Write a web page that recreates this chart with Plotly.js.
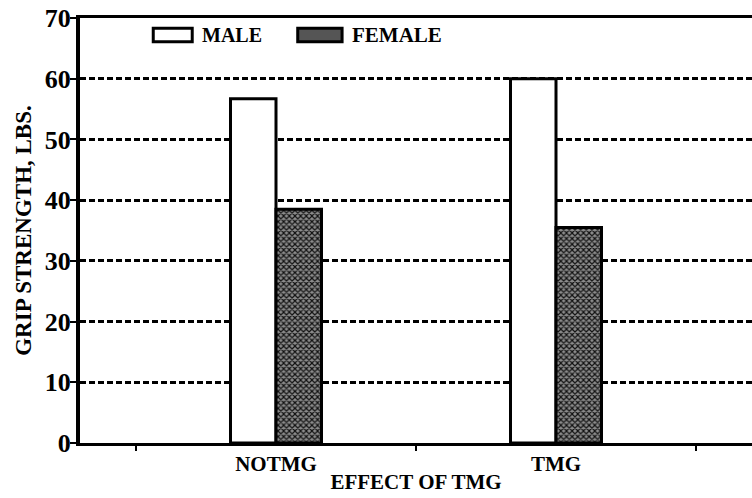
<!DOCTYPE html>
<html>
<head>
<meta charset="utf-8">
<script src="https://cdn.plot.ly/plotly-3.0.1.min.js"></script>
<style>html,body{margin:0;padding:0;background:#fff;}#chart{width:752px;height:498px;}</style>
</head>
<body>
<div id="chart"></div>
<script>
var categories = ["NOTMG", "TMG"];
var seriesNames = ["MALE", "FEMALE"];
var maleValues = [56.7, 60];
var femaleValues = [38.5, 35.5];
var yTickValues = [0, 10, 20, 30, 40, 50, 60, 70];
var xAxisTitle = "EFFECT OF TMG";
var yAxisTitle = "GRIP STRENGTH, LBS.";

var serif = "Liberation Serif, Times New Roman, serif";
function f(size) { return {family: serif, size: size, color: "#000", weight: "bold"}; }

var traces = [
  {
    type: "bar", name: seriesNames[0], x: categories, y: maleValues,
    marker: {color: "#fff", line: {color: "#000", width: 3}},
    showlegend: false, hoverinfo: "x+y"
  },
  {
    type: "bar", name: seriesNames[1], x: categories, y: femaleValues,
    marker: {
      color: "#666",
      line: {color: "#000", width: 3},
      pattern: {shape: "x", size: 4, solidity: 0.5, fgcolor: "#111", bgcolor: "#8c8c8c"}
    },
    showlegend: false, hoverinfo: "x+y"
  }
];

// legend drawn in paper coordinates
var lgY0 = 0.944, lgY1 = 0.976;
var shapes = [
  {type: "rect", xref: "paper", yref: "paper", x0: 0.109, x1: 0.167, y0: lgY0, y1: lgY1,
   fillcolor: "#fff", line: {color: "#000", width: 3}},
  {type: "rect", xref: "paper", yref: "paper", x0: 0.324, x1: 0.390, y0: lgY0, y1: lgY1,
   fillcolor: "#555", line: {color: "#000", width: 3}}
];
var annotations = [
  {xref: "paper", yref: "paper", x: 0.179, y: 0.96, xanchor: "left", yanchor: "middle",
   text: seriesNames[0], showarrow: false, font: f(20)},
  {xref: "paper", yref: "paper", x: 0.402, y: 0.96, xanchor: "left", yanchor: "middle",
   text: seriesNames[1], showarrow: false, font: f(21)}
];

var layout = {
  width: 752, height: 498,
  margin: {l: 80, r: 0, t: 18, b: 55},
  paper_bgcolor: "#fff", plot_bgcolor: "#fff",
  barmode: "group", bargap: 0.675, bargroupgap: 0,
  font: f(20),
  xaxis: {
    type: "category", range: [-0.7, 1.7],
    showline: true, linecolor: "#000", linewidth: 3, mirror: true,
    ticks: "outside", tickson: "boundaries", ticklen: 5, tickwidth: 2, tickcolor: "#000",
    showgrid: false, zeroline: false,
    tickfont: f(21),
    title: {text: xAxisTitle, font: f(21), standoff: 0}
  },
  yaxis: {
    range: [0, 70], tickvals: yTickValues, ticktext: yTickValues.map(String),
    showline: true, linecolor: "#000", linewidth: 4,
    ticks: "outside", ticklen: 6, tickwidth: 2, tickcolor: "#000",
    ticklabelstandoff: -6,
    showgrid: true, gridcolor: "#000", gridwidth: 3, griddash: "6px,3px",
    zeroline: false,
    tickfont: f(26),
    title: {text: yAxisTitle, font: f(23), standoff: 8}
  },
  shapes: shapes,
  annotations: annotations
};

Plotly.newPlot("chart", traces, layout, {displayModeBar: false, staticPlot: true});
</script>
</body>
</html>
